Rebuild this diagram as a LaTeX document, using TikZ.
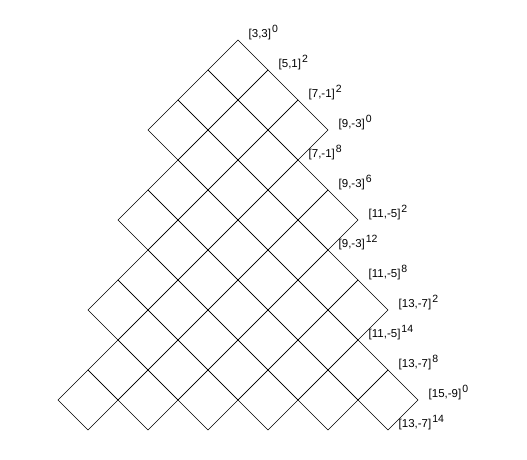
\documentclass[tikz,border=0pt]{standalone}
\usepackage{fontspec}
\setmainfont{Liberation Sans}
\usetikzlibrary{math}
\newcommand{\wt}[2]{#1\kern1pt\raisebox{5pt}{\fontsize{10.5}{12}\selectfont #2}}

\begin{document}
\begin{tikzpicture}[x=1pt,y=1pt,
    cell/.style={draw=black,line width=0.6pt},
    wlabel/.style={anchor=base west,inner sep=0pt,
      font=\fontsize{11.5}{13}\selectfont,xshift=10.5pt,yshift=3pt}]
    % The frame
    \tikzmath{\h=30;}
    \useasboundingbox (-238,40) rectangle (289,-419);
    \begin{scope}[x={(\h pt,-\h pt)},y={(-\h pt,-\h pt)}]
      % The cells, u runs down right, v runs down left
      \foreach \i/\jmin/\jmax in {0/0/2,1/0/4,2/0/6,3/1/8,4/1/7,5/2/6,6/2/5,7/3/4,8/3/3}
        \foreach \j in {\jmin,...,\jmax}
          \draw[cell] (\i,\j) -- ++(1,0) -- ++(0,1) -- ++(-1,0) -- cycle;
      % The weights along the right edge
      \foreach \u/\v/\w/\s [count=\k] in {0/0/{[3,3]}/0, 1/0/{[5,1]}/2,
          2/0/{[7,-1]}/2, 3/0/{[9,-3]}/0, 3/1/{[7,-1]}/8, 4/1/{[9,-3]}/6,
          5/1/{[11,-5]}/2, 5/2/{[9,-3]}/12, 6/2/{[11,-5]}/8, 7/2/{[13,-7]}/2,
          7/3/{[11,-5]}/14, 8/3/{[13,-7]}/8, 9/3/{[15,-9]}/0, 9/4/{[13,-7]}/14}
        \node[wlabel] (w\k) at (\u,\v) {\wt{\w}{\s}};
    \end{scope}
\end{tikzpicture}
\end{document}
